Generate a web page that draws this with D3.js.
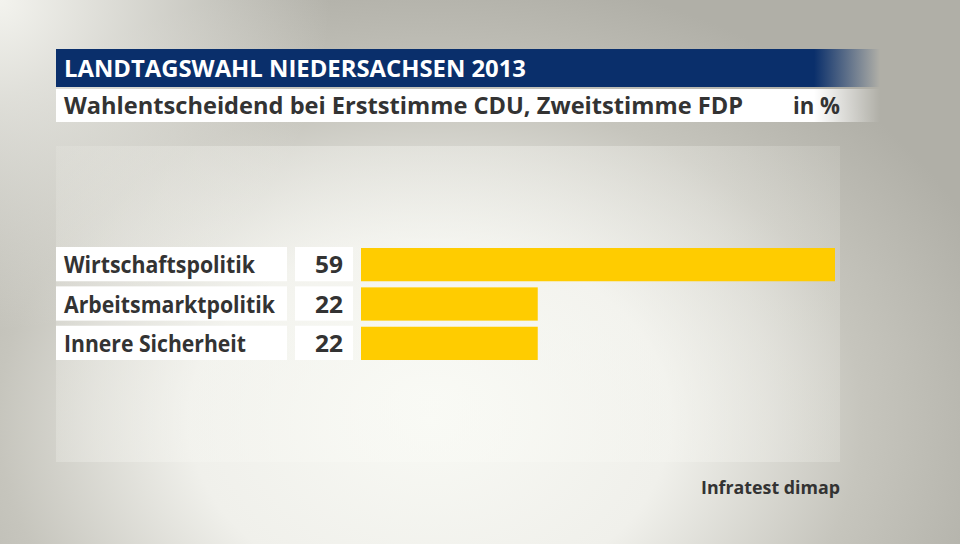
<!DOCTYPE html>
<html><head><meta charset="utf-8">
<script src="https://cdn.jsdelivr.net/npm/d3@7"></script>
<style>body{margin:0;background:#fff}svg{display:block}</style>
</head><body>
<script>
const title = "LANDTAGSWAHL NIEDERSACHSEN 2013";
const subtitle = "Wahlentscheidend bei Erststimme CDU, Zweitstimme FDP";
const unit = "in %";
const source = "Infratest dimap";
const categories = ["Wirtschaftspolitik", "Arbeitsmarktpolitik", "Innere Sicherheit"];
const values = [59, 22, 22];

const W = 960, H = 544;
const font = "'Open Sans', sans-serif";
const svg = d3.select("body").append("svg").attr("width", W).attr("height", H);
const defs = svg.append("defs");

// background gradients
const bg = defs.append("radialGradient").attr("id","bg").attr("gradientUnits","userSpaceOnUse")
  .attr("cx",430).attr("cy",420).attr("r",600)
  .attr("gradientTransform","translate(430,420) scale(1,0.75) translate(-430,-420)");
bg.append("stop").attr("offset","0").attr("stop-color","#f8f9f4");
bg.append("stop").attr("offset","0.4").attr("stop-color","#f0f0eb");
bg.append("stop").attr("offset","0.72").attr("stop-color","#c6c5bd");
bg.append("stop").attr("offset","1").attr("stop-color","#b0afa7");
svg.append("rect").attr("width",W).attr("height",H).attr("fill","url(#bg)");

const tl = defs.append("radialGradient").attr("id","tl").attr("gradientUnits","userSpaceOnUse")
  .attr("cx",0).attr("cy",0).attr("r",330);
tl.append("stop").attr("offset","0").attr("stop-color","#f3f3ee").attr("stop-opacity",1);
tl.append("stop").attr("offset","1").attr("stop-color","#f3f3ee").attr("stop-opacity",0);
svg.append("rect").attr("width",W).attr("height",H).attr("fill","url(#tl)");

// plot panel (slightly lighter)
const pg = defs.append("radialGradient").attr("id","pg").attr("gradientUnits","userSpaceOnUse")
  .attr("cx",430).attr("cy",400).attr("r",480);
pg.append("stop").attr("offset","0").attr("stop-color","#fafbf6").attr("stop-opacity",0.6);
pg.append("stop").attr("offset","0.7").attr("stop-color","#f4f4ef").attr("stop-opacity",0.35);
pg.append("stop").attr("offset","1").attr("stop-color","#eeeee8").attr("stop-opacity",0.15);
svg.append("rect").attr("x",56).attr("y",146).attr("width",784).attr("height",316).attr("fill","url(#pg)");

// header bars with right fade
function fade(id, color){
  const g = defs.append("linearGradient").attr("id",id).attr("gradientUnits","userSpaceOnUse")
    .attr("x1",56).attr("x2",880).attr("y1",0).attr("y2",0);
  g.append("stop").attr("offset","0").attr("stop-color",color);
  g.append("stop").attr("offset","0.92").attr("stop-color",color);
  g.append("stop").attr("offset","1").attr("stop-color",color).attr("stop-opacity",0);
}
fade("tb","#0a2f6b");
fade("sb","#ffffff");
svg.append("rect").attr("x",56).attr("y",49).attr("width",824).attr("height",38).attr("fill","url(#tb)");
svg.append("rect").attr("x",56).attr("y",89).attr("width",824).attr("height",33).attr("fill","url(#sb)");

function txt(x,y,s,size,color,anchor,len){
  const t = svg.append("text").attr("x",x).attr("y",y).text(s)
    .attr("font-family",font).attr("font-weight",700).attr("font-size",size)
    .attr("fill",color).attr("text-anchor",anchor||"start");
  if(len) t.attr("textLength",len).attr("lengthAdjust","spacingAndGlyphs");
  return t;
}
txt(64,77,title,23,"#ffffff","start",462);
txt(64,114,subtitle,23,"#333333","start",679);
txt(840,114,unit,23,"#333333","end",47);

// bars
const x = d3.scaleLinear().domain([0,59]).range([0,474]);
const y = d3.scaleBand().domain(categories).range([247,360]).paddingInner(0.13).paddingOuter(0);
const labelW = [191,211,182];

const rows = svg.append("g").selectAll("g").data(categories).join("g");
rows.append("rect").attr("x",56).attr("y",d=>y(d)).attr("width",231).attr("height",y.bandwidth()).attr("fill","#ffffff");
rows.append("rect").attr("x",295).attr("y",d=>y(d)).attr("width",58).attr("height",y.bandwidth()).attr("fill","#ffffff");
rows.append("rect").attr("x",361).attr("y",d=>y(d)+1).attr("width",(d,i)=>x(values[i])).attr("height",y.bandwidth()-1).attr("fill","#ffcc00");
rows.each(function(d,i){
  const g = d3.select(this);
  const cy = y(d)+y.bandwidth()/2;
  g.append("text").attr("x",64).attr("y",cy+9).text(d)
    .attr("font-family",font).attr("font-weight",700).attr("font-size",23).attr("fill","#333333")
    .attr("textLength",labelW[i]).attr("lengthAdjust","spacingAndGlyphs");
  g.append("text").attr("x",343).attr("y",cy+9).attr("text-anchor","end").text(values[i])
    .attr("font-family",font).attr("font-weight",700).attr("font-size",23).attr("fill","#333333")
    .attr("textLength",28).attr("lengthAdjust","spacingAndGlyphs");
});

txt(840,494,source,18,"#333333","end",139);
</script>
</body></html>
